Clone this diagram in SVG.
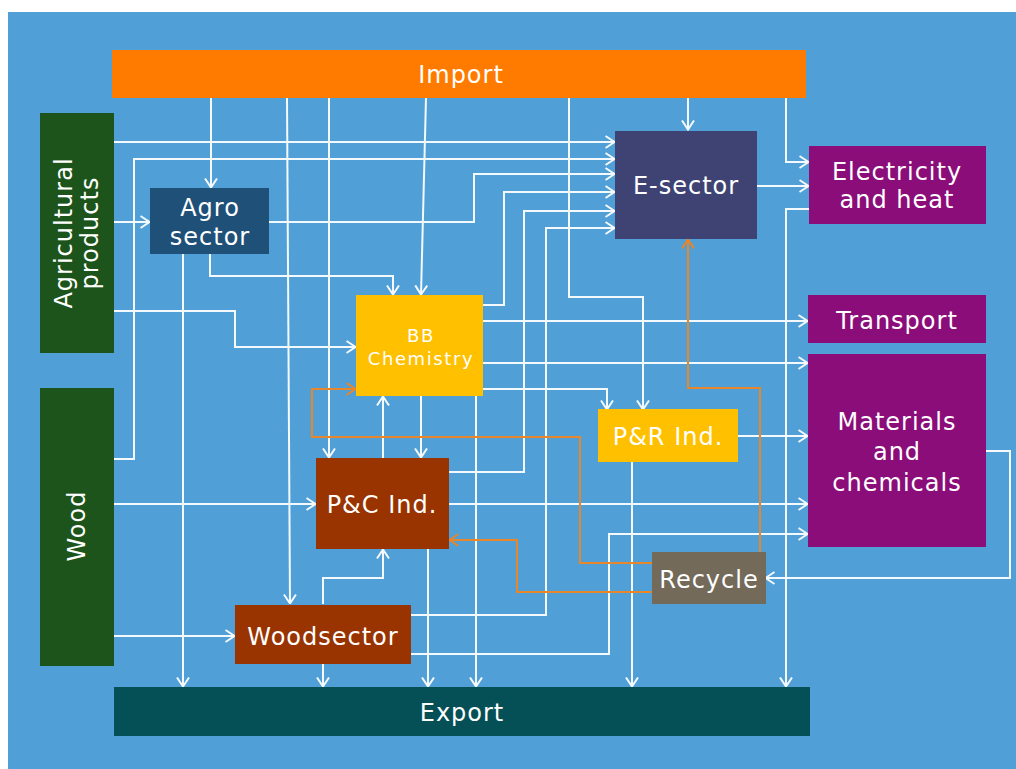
<svg xmlns="http://www.w3.org/2000/svg" width="1016" height="769" viewBox="0 0 1016 769">
<style>
.t{font-family:"DejaVu Sans","Liberation Sans",sans-serif;fill:#ffffff;font-size:24px;letter-spacing:1px;text-anchor:middle}
.s{font-size:18px;letter-spacing:1.6px}
.w{fill:none;stroke:#f4f9fd;stroke-width:2}
.o{fill:none;stroke:#e8862a;stroke-width:2}
.wa{marker-end:url(#aw)}
.oa{marker-end:url(#ao)}
</style>
<defs>
<marker id="aw" viewBox="0 0 11 14" refX="10.5" refY="7" markerWidth="11" markerHeight="14" markerUnits="userSpaceOnUse" orient="auto">
<path d="M1,1 L10,7 L1,13" fill="none" stroke="#f4f9fd" stroke-width="2"/>
</marker>
<marker id="ao" viewBox="0 0 11 14" refX="10.5" refY="7" markerWidth="11" markerHeight="14" markerUnits="userSpaceOnUse" orient="auto">
<path d="M1,1 L10,7 L1,13" fill="none" stroke="#e8862a" stroke-width="2"/>
</marker>
</defs>
<rect x="0" y="0" width="1016" height="769" fill="#ffffff"/>
<rect x="8" y="12" width="1008" height="757" fill="#509fd6"/>
<g id="connectors">
<path class="w wa" d="M211,98 V188"/>
<path class="w wa" d="M287,98 L290,604"/>
<path class="w wa" d="M329,98 V458"/>
<path class="w wa" d="M426,98 L421,295"/>
<path class="w wa" d="M569,98 V297 H643 V410"/>
<path class="w wa" d="M688,98 V130"/>
<path class="w wa" d="M786,98 V162 H809"/>
<path class="w wa" d="M114,142 H615"/>
<path class="w wa" d="M114,459 H134 V159 H615"/>
<path class="w wa" d="M114,222 H150"/>
<path class="w wa" d="M269,222 H474 V174 H615"/>
<path class="w wa" d="M210,254 V276 H393 V295"/>
<path class="w wa" d="M183,254 V687"/>
<path class="w wa" d="M114,311 H235 V347 H356"/>
<path class="w wa" d="M483,305 H504 V192 H615"/>
<path class="w wa" d="M449,472 H524 V211 H615"/>
<path class="w wa" d="M411,615 H546 V228 H615"/>
<path class="w wa" d="M757,186 H809"/>
<path class="w wa" d="M809,209 H786 V687"/>
<path class="w wa" d="M483,321 H808"/>
<path class="w wa" d="M483,363 H808"/>
<path class="w wa" d="M483,389 H607 V410"/>
<path class="w wa" d="M738,436 H808"/>
<path class="w wa" d="M449,504 H808"/>
<path class="w wa" d="M411,654 H609 V534 H808"/>
<path class="w wa" d="M986,451 H1010 V578 H765"/>
<path class="w wa" d="M632,462 V687"/>
<path class="w wa" d="M476,396 V687"/>
<path class="w wa" d="M428,549 V687"/>
<path class="w wa" d="M323,664 V687"/>
<path class="w wa" d="M323,604 V578 H383 V549"/>
<path class="w wa" d="M421,396 V458"/>
<path class="w wa" d="M383,458 V396"/>
<path class="w wa" d="M114,504 H316"/>
<path class="w wa" d="M114,636 H235"/>
<path class="o oa" d="M760,552 V388 H688 V239"/>
<path class="o oa" d="M652,563 H580 V437 H312 V389 H356"/>
<path class="o oa" d="M652,592 H517 V540 H449"/>
</g>
<g id="import"><rect x="112" y="50" width="694" height="48" fill="#ff7b00"/><text class="t" x="461" y="83">Import</text></g>
<g id="agricultural"><rect x="40" y="113" width="74" height="240" fill="#1c541b"/><text class="t" transform="translate(72,233) rotate(-90)"><tspan x="0" y="0">Agricultural</tspan><tspan x="0" y="26">products</tspan></text></g>
<g id="wood"><rect x="40" y="388" width="74" height="278" fill="#1c541b"/><text class="t" transform="translate(85,526) rotate(-90)">Wood</text></g>
<g id="agro"><rect x="150" y="188" width="119" height="66" fill="#1e5078"/><text class="t" x="210" y="216">Agro</text><text class="t" x="210" y="245">sector</text></g>
<g id="esector"><rect x="615" y="131" width="142" height="108" fill="#3e4374"/><text class="t" x="686" y="194">E-sector</text></g>
<g id="electricity"><rect x="809" y="146" width="177" height="78" fill="#8b0d79"/><text class="t" x="897" y="180">Electricity</text><text class="t" x="897" y="208">and heat</text></g>
<g id="transport"><rect x="808" y="295" width="178" height="48" fill="#8b0d79"/><text class="t" x="897" y="329">Transport</text></g>
<g id="materials"><rect x="808" y="354" width="178" height="193" fill="#8b0d79"/><text class="t" x="897" y="430">Materials</text><text class="t" x="897" y="460">and</text><text class="t" x="897" y="491">chemicals</text></g>
<g id="bbchem"><rect x="356" y="295" width="127" height="101" fill="#ffc000"/><text class="t s" x="421" y="342">BB</text><text class="t s" x="421" y="365">Chemistry</text></g>
<g id="pr"><rect x="598" y="409" width="140" height="53" fill="#ffc000"/><text class="t" x="668" y="445">P&amp;R Ind.</text></g>
<g id="pc"><rect x="316" y="458" width="133" height="91" fill="#993300"/><text class="t" x="382" y="513">P&amp;C Ind.</text></g>
<g id="recycle"><rect x="652" y="552" width="114" height="52" fill="#736a5a"/><text class="t" x="709" y="588">Recycle</text></g>
<g id="woodsector"><rect x="235" y="605" width="176" height="59" fill="#993300"/><text class="t" x="323" y="645">Woodsector</text></g>
<g id="export"><rect x="114" y="687" width="696" height="49" fill="#054f56"/><text class="t" x="462" y="721">Export</text></g>
</svg>
